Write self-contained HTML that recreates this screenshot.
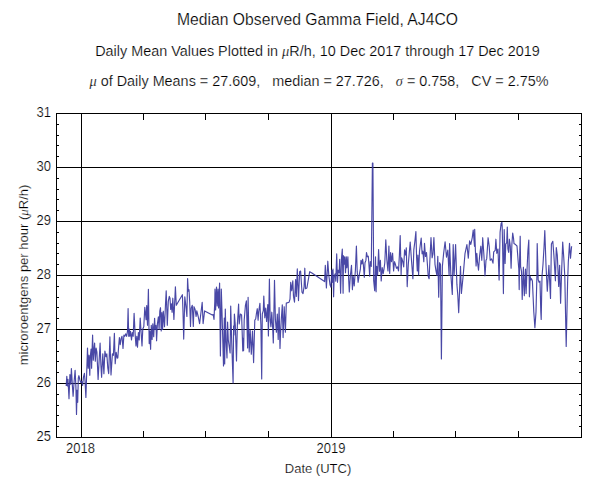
<!DOCTYPE html>
<html><head><meta charset="utf-8"><style>
html,body{margin:0;padding:0;background:#fff;}
svg{display:block;}
text{font-family:"Liberation Sans",sans-serif;fill:#000;stroke:#fff;stroke-width:0.2px;}
</style></head><body>
<svg width="600" height="496" viewBox="0 0 600 496">
<rect x="0" y="0" width="600" height="496" fill="#fff"/>
<g font-size="15.7" text-anchor="middle"><text x="317.5" y="25" transform="translate(0,25) scale(1,1.1) translate(0,-25)">Median Observed Gamma Field, AJ4CO</text></g>
<g font-size="14.4" text-anchor="middle">
<text x="317.5" y="56" transform="translate(0,56) scale(1,1.06) translate(0,-56)">Daily Mean Values Plotted in <tspan font-family="Liberation Serif" font-style="italic">μ</tspan>R/h, 10 Dec 2017 through 17 Dec 2019</text>
<text x="319" y="86" transform="translate(0,86) scale(1,1.06) translate(0,-86)" xml:space="preserve"><tspan font-family="Liberation Serif" font-style="italic">μ</tspan> of Daily Means = 27.609,   median = 27.726,   <tspan font-family="Liberation Serif" font-style="italic">σ</tspan> = 0.758,   CV = 2.75%</text>
</g>


<g stroke="#000" stroke-width="1" shape-rendering="crispEdges">
<rect x="56.5" y="113.5" width="525" height="324" fill="none"/>
<line x1="56" y1="167.5" x2="582" y2="167.5"/><line x1="56" y1="221.5" x2="582" y2="221.5"/><line x1="56" y1="275.5" x2="582" y2="275.5"/><line x1="56" y1="329.5" x2="582" y2="329.5"/><line x1="56" y1="383.5" x2="582" y2="383.5"/><line x1="81.5" y1="113" x2="81.5" y2="438"/><line x1="331.5" y1="113" x2="331.5" y2="438"/>
<line x1="56" y1="124.5" x2="59" y2="124.5"/><line x1="579" y1="124.5" x2="582" y2="124.5"/><line x1="56" y1="135.5" x2="59" y2="135.5"/><line x1="579" y1="135.5" x2="582" y2="135.5"/><line x1="56" y1="145.5" x2="59" y2="145.5"/><line x1="579" y1="145.5" x2="582" y2="145.5"/><line x1="56" y1="156.5" x2="59" y2="156.5"/><line x1="579" y1="156.5" x2="582" y2="156.5"/><line x1="56" y1="178.5" x2="59" y2="178.5"/><line x1="579" y1="178.5" x2="582" y2="178.5"/><line x1="56" y1="189.5" x2="59" y2="189.5"/><line x1="579" y1="189.5" x2="582" y2="189.5"/><line x1="56" y1="199.5" x2="59" y2="199.5"/><line x1="579" y1="199.5" x2="582" y2="199.5"/><line x1="56" y1="210.5" x2="59" y2="210.5"/><line x1="579" y1="210.5" x2="582" y2="210.5"/><line x1="56" y1="232.5" x2="59" y2="232.5"/><line x1="579" y1="232.5" x2="582" y2="232.5"/><line x1="56" y1="243.5" x2="59" y2="243.5"/><line x1="579" y1="243.5" x2="582" y2="243.5"/><line x1="56" y1="253.5" x2="59" y2="253.5"/><line x1="579" y1="253.5" x2="582" y2="253.5"/><line x1="56" y1="264.5" x2="59" y2="264.5"/><line x1="579" y1="264.5" x2="582" y2="264.5"/><line x1="56" y1="286.5" x2="59" y2="286.5"/><line x1="579" y1="286.5" x2="582" y2="286.5"/><line x1="56" y1="297.5" x2="59" y2="297.5"/><line x1="579" y1="297.5" x2="582" y2="297.5"/><line x1="56" y1="307.5" x2="59" y2="307.5"/><line x1="579" y1="307.5" x2="582" y2="307.5"/><line x1="56" y1="318.5" x2="59" y2="318.5"/><line x1="579" y1="318.5" x2="582" y2="318.5"/><line x1="56" y1="340.5" x2="59" y2="340.5"/><line x1="579" y1="340.5" x2="582" y2="340.5"/><line x1="56" y1="351.5" x2="59" y2="351.5"/><line x1="579" y1="351.5" x2="582" y2="351.5"/><line x1="56" y1="361.5" x2="59" y2="361.5"/><line x1="579" y1="361.5" x2="582" y2="361.5"/><line x1="56" y1="372.5" x2="59" y2="372.5"/><line x1="579" y1="372.5" x2="582" y2="372.5"/><line x1="56" y1="394.5" x2="59" y2="394.5"/><line x1="579" y1="394.5" x2="582" y2="394.5"/><line x1="56" y1="405.5" x2="59" y2="405.5"/><line x1="579" y1="405.5" x2="582" y2="405.5"/><line x1="56" y1="415.5" x2="59" y2="415.5"/><line x1="579" y1="415.5" x2="582" y2="415.5"/><line x1="56" y1="426.5" x2="59" y2="426.5"/><line x1="579" y1="426.5" x2="582" y2="426.5"/><line x1="143.5" y1="113" x2="143.5" y2="120"/><line x1="143.5" y1="431" x2="143.5" y2="438"/><line x1="205.5" y1="113" x2="205.5" y2="120"/><line x1="205.5" y1="431" x2="205.5" y2="438"/><line x1="268.5" y1="113" x2="268.5" y2="120"/><line x1="268.5" y1="431" x2="268.5" y2="438"/><line x1="393.5" y1="113" x2="393.5" y2="120"/><line x1="393.5" y1="431" x2="393.5" y2="438"/><line x1="455.5" y1="113" x2="455.5" y2="120"/><line x1="455.5" y1="431" x2="455.5" y2="438"/><line x1="518.5" y1="113" x2="518.5" y2="120"/><line x1="518.5" y1="431" x2="518.5" y2="438"/>
</g>
<path d="M66.2 386.0 L66.8 376.3 L67.4 386.0 L68.0 379.3 L69.0 398.7 L69.9 374.5 L70.7 384.2 L71.4 368.5 L72.3 384.2 L73.1 396.3 L74.1 381.8 L75.1 370.3 L75.9 386.6 L76.5 414.4 L77.1 390.2 L77.7 402.3 L78.3 378.1 L78.9 375.7 L79.9 380.0 L80.7 382.4 L81.6 381.2 L82.6 385.4 L83.5 376.9 L84.4 373.3 L85.0 380.6 L85.9 397.5 L87.5 348.1 L88.2 368.3 L89.0 355.2 L89.8 375.3 L90.2 357.2 L91.1 349.1 L91.6 368.3 L92.1 350.1 L92.6 335.0 L93.3 360.2 L94.1 348.1 L94.6 343.0 L95.3 361.2 L96.1 348.1 L96.9 352.1 L98.1 379.4 L99.1 361.2 L100.1 343.0 L100.9 365.2 L101.6 377.3 L102.6 357.2 L102.8 353.9 L103.9 373.6 L104.9 351.0 L105.9 356.7 L106.8 353.9 L107.8 368.0 L108.7 373.6 L109.9 336.9 L111.0 375.0 L112.4 353.9 L113.4 355.3 L114.4 333.4 L115.2 363.7 L116.2 352.4 L117.2 358.1 L117.8 358.0 L118.7 345.9 L119.4 337.5 L120.2 344.7 L121.1 338.7 L122.0 336.3 L123.0 348.4 L123.9 335.1 L124.7 336.3 L125.7 333.9 L126.6 336.3 L127.5 331.4 L128.1 308.5 L128.7 336.3 L129.3 329.0 L129.9 336.3 L130.5 331.4 L131.5 339.9 L132.3 332.6 L133.2 336.3 L134.1 313.3 L135.1 333.9 L136.0 345.9 L136.8 336.3 L137.5 347.2 L138.4 332.6 L139.2 339.9 L140.2 318.1 L141.2 333.9 L142.0 345.9 L142.8 329.0 L143.8 326.6 L144.8 307.3 L146.1 319.7 L146.7 305.6 L147.5 325.3 L148.4 289.3 L149.2 343.6 L149.9 331.0 L150.6 349.3 L151.3 325.3 L152.1 339.4 L152.8 323.9 L153.7 336.6 L154.6 318.3 L155.2 329.5 L156.0 325.3 L156.6 340.8 L157.4 323.9 L158.4 316.9 L159.1 329.5 L159.8 311.2 L160.5 307.7 L161.2 331.0 L161.9 312.6 L162.6 329.5 L163.3 311.2 L164.5 326.7 L165.5 304.2 L166.2 290.8 L167.3 325.3 L168.3 301.3 L169.3 296.4 L170.0 298.2 L170.7 309.5 L171.4 303.9 L172.1 312.3 L172.8 298.2 L173.9 319.4 L175.4 286.9 L176.3 305.3 L182.4 294.7 L183.0 312.3 L183.7 339.1 L184.8 296.8 L185.8 305.3 L186.9 316.5 L187.6 278.5 L188.3 291.2 L189.0 289.7 L189.7 302.4 L190.5 326.4 L191.2 308.1 L192.3 305.3 L193.3 326.4 L194.0 306.7 L195.1 309.5 L196.1 316.5 L196.8 310.9 L198.2 316.5 L199.6 323.6 L201.0 312.3 L202.2 302.4 L203.1 323.6 L204.6 310.9 L212.3 315.1 L213.2 314.5 L214.0 319.4 L214.8 301.6 L215.0 289.0 L215.6 310.0 L216.5 287.0 L217.2 306.0 L218.0 289.0 L218.6 308.0 L219.6 283.0 L220.4 356.0 L221.3 289.0 L222.0 312.0 L223.5 366.0 L224.3 318.0 L224.7 364.0 L225.3 309.0 L226.1 342.0 L227.0 358.0 L227.6 322.0 L228.3 340.0 L230.1 353.0 L230.7 306.0 L231.7 342.0 L233.1 383.0 L233.6 326.0 L234.0 335.0 L234.4 314.0 L235.3 325.0 L236.5 361.0 L237.4 324.0 L238.6 304.0 L239.2 324.0 L240.4 314.0 L241.6 315.0 L242.8 351.0 L243.0 338.4 L243.6 350.6 L244.2 320.0 L245.4 305.7 L246.4 300.9 L247.6 348.0 L248.1 297.3 L249.2 352.0 L250.2 330.0 L251.3 354.2 L252.5 331.0 L253.6 362.6 L254.8 320.2 L255.7 319.0 L256.5 313.0 L257.3 308.7 L258.1 320.2 L258.7 311.8 L259.9 303.3 L260.9 325.0 L261.7 379.0 L262.3 314.0 L263.3 310.6 L263.8 296.0 L264.8 317.8 L265.7 308.1 L266.6 321.4 L267.8 304.5 L268.4 336.0 L269.4 279.0 L270.2 320.2 L270.9 326.7 L271.8 312.2 L272.7 328.5 L273.3 343.0 L274.5 280.4 L275.4 319.4 L276.4 332.2 L277.3 314.0 L278.2 339.4 L279.1 307.6 L280.0 348.5 L280.5 334.0 L281.3 319.4 L282.3 304.9 L283.1 337.6 L284.2 306.7 L285.4 332.2 L286.3 303.1 L289.1 302.2 L290.0 299.2 L290.7 282.3 L291.7 290.8 L292.8 280.9 L293.5 296.4 L294.5 302.1 L295.6 279.5 L296.3 296.4 L297.3 268.9 L298.5 300.6 L299.6 271.7 L300.6 271.0 L302.0 292.2 L303.0 293.6 L304.1 286.5 L304.8 268.2 L305.5 288.7 L306.9 288.0 L309.7 271.7 L311.9 273.1 L324.6 281.6 L325.3 265.4 L326.4 288.0 L327.8 261.2 L328.8 275.3 L330.0 284.7 L331.0 287.2 L331.8 270.2 L332.4 282.3 L333.0 269.0 L333.6 296.8 L334.2 276.3 L335.1 273.9 L335.8 281.1 L336.7 253.9 L337.5 282.3 L338.2 270.2 L339.1 272.6 L339.7 259.3 L340.6 293.2 L341.5 258.1 L342.3 249.1 L343.1 293.2 L343.5 255.7 L344.3 264.2 L344.8 256.9 L345.5 272.6 L346.3 256.9 L346.9 267.8 L347.9 256.9 L348.7 279.9 L349.3 292.0 L350.3 276.3 L351.5 265.4 L352.4 289.6 L353.2 276.3 L354.2 285.9 L355.4 270.2 L356.4 246.0 L357.2 271.4 L358.1 282.3 L359.0 276.3 L360.4 268.9 L361.0 260.4 L361.9 264.0 L362.6 259.2 L363.4 265.2 L364.3 277.3 L365.0 262.8 L365.9 260.4 L366.5 252.5 L367.4 256.8 L368.3 256.2 L368.9 264.0 L369.7 276.1 L370.3 261.6 L371.3 266.4 L372.4 163.0 L372.9 163.0 L373.7 280.9 L374.7 290.6 L375.5 256.8 L376.1 291.8 L376.7 266.4 L377.6 274.9 L378.6 249.5 L379.5 271.3 L380.4 260.4 L381.2 280.9 L382.2 267.6 L383.2 273.7 L384.0 268.9 L384.8 262.8 L385.8 239.8 L386.8 259.2 L387.6 267.6 L388.0 270.9 L388.9 246.0 L389.7 273.5 L390.6 252.5 L391.5 261.7 L392.6 253.2 L393.6 270.9 L394.5 261.7 L395.4 264.3 L396.5 268.3 L397.5 266.9 L398.5 270.9 L399.4 255.1 L400.2 235.5 L401.1 274.8 L401.7 257.8 L402.8 261.7 L403.7 266.9 L404.6 249.9 L405.7 255.1 L406.3 247.9 L407.2 286.6 L408.3 264.3 L409.3 252.5 L410.2 242.0 L411.6 261.7 L412.9 278.7 L413.8 249.9 L414.8 242.0 L415.9 231.6 L416.6 257.8 L417.3 270.9 L417.9 255.1 L418.6 274.8 L419.5 251.2 L420.3 244.7 L421.2 238.1 L422.1 253.8 L422.9 251.2 L423.8 261.7 L424.5 243.3 L425.5 256.5 L426.5 252.5 L427.4 264.3 L428.2 276.1 L429.1 278.7 L430.0 257.8 L431.0 237.5 L432.1 257.8 L433.0 253.8 L433.9 237.5 L435.0 264.3 L436.0 270.9 L436.9 275.4 L437.8 256.3 L438.7 297.2 L439.6 262.7 L440.5 264.5 L441.4 359.0 L442.4 266.3 L443.6 253.6 L445.1 241.8 L446.5 257.2 L447.8 250.0 L449.1 275.4 L449.6 243.6 L450.9 275.4 L452.3 294.4 L453.2 244.5 L454.1 275.4 L455.6 244.5 L456.9 284.4 L457.8 295.3 L458.7 312.6 L459.6 289.9 L460.5 266.3 L461.4 293.5 L463.2 275.4 L465.0 253.6 L466.9 244.5 L468.3 258.1 L469.6 240.9 L470.8 244.5 L472.3 237.3 L473.2 230.0 L474.5 246.3 L474.7 229.3 L475.4 250.4 L476.1 266.0 L476.8 253.3 L477.5 261.7 L478.5 270.2 L479.6 256.1 L480.8 246.2 L481.8 260.3 L482.7 237.7 L483.9 254.7 L485.0 275.8 L486.0 260.3 L486.7 258.9 L488.1 237.7 L489.2 246.2 L490.2 260.3 L491.6 258.9 L493.0 263.1 L493.7 251.9 L495.2 250.4 L495.9 239.2 L496.8 253.3 L498.0 249.0 L499.1 280.1 L500.1 232.1 L501.1 223.6 L501.9 222.3 L502.2 227.1 L502.7 251.3 L503.4 293.6 L504.2 229.5 L505.1 263.4 L505.8 244.0 L506.7 242.8 L507.3 227.1 L507.9 248.9 L508.7 252.5 L509.4 239.2 L510.3 246.4 L511.1 268.2 L511.9 244.0 L512.7 233.1 L513.5 238.0 L514.0 243.6 L515.8 244.8 L517.0 246.0 L518.2 261.8 L518.8 269.0 L519.2 289.6 L519.6 260.6 L520.2 236.2 L520.6 266.6 L521.5 271.4 L522.2 299.5 L523.4 267.2 L524.3 295.6 L525.5 269.0 L526.1 293.6 L527.0 270.2 L527.9 250.9 L528.8 240.0 L529.4 296.8 L530.2 276.3 L530.7 280.0 L531.5 278.7 L532.4 281.0 L533.8 312.0 L534.9 327.7 L536.0 312.0 L536.9 276.3 L537.2 243.6 L538.2 279.9 L539.1 282.3 L540.0 281.1 L540.8 311.8 L541.2 319.5 L542.0 276.3 L543.0 264.2 L544.0 247.6 L544.8 230.6 L546.0 265.3 L547.3 291.1 L548.9 265.3 L550.5 298.4 L551.4 244.1 L552.8 241.3 L553.9 255.4 L555.4 280.8 L556.3 247.6 L557.3 255.4 L558.7 286.4 L559.6 265.3 L560.6 303.3 L561.6 272.3 L562.7 242.0 L563.8 258.2 L564.8 276.5 L566.2 346.5 L567.6 282.2 L568.3 262.4 L569.5 243.4 L570.5 258.2 L571.6 246.2" fill="none" stroke="#3a389e" stroke-opacity="0.92" stroke-width="1.15" stroke-linejoin="round"/>
<g font-size="13" >
<text x="51" y="117.5" text-anchor="end" transform="translate(0,117.5) scale(1,1.12) translate(0,-117.5)">31</text><text x="51" y="171.5" text-anchor="end" transform="translate(0,171.5) scale(1,1.12) translate(0,-171.5)">30</text><text x="51" y="225.5" text-anchor="end" transform="translate(0,225.5) scale(1,1.12) translate(0,-225.5)">29</text><text x="51" y="279.5" text-anchor="end" transform="translate(0,279.5) scale(1,1.12) translate(0,-279.5)">28</text><text x="51" y="333.5" text-anchor="end" transform="translate(0,333.5) scale(1,1.12) translate(0,-333.5)">27</text><text x="51" y="387.5" text-anchor="end" transform="translate(0,387.5) scale(1,1.12) translate(0,-387.5)">26</text><text x="51" y="441.5" text-anchor="end" transform="translate(0,441.5) scale(1,1.12) translate(0,-441.5)">25</text>
<text x="80.5" y="453" text-anchor="middle" transform="translate(0,453) scale(1,1.12) translate(0,-453)">2018</text>
<text x="331" y="453" text-anchor="middle" transform="translate(0,453) scale(1,1.12) translate(0,-453)">2019</text>
<text x="318" y="473" text-anchor="middle">Date (UTC)</text>
<text transform="translate(28,275) rotate(-90)" text-anchor="middle">microroentgens per hour (<tspan font-family="Liberation Serif" font-style="italic">μ</tspan>R/h)</text>
</g>
</svg>
</body></html>
